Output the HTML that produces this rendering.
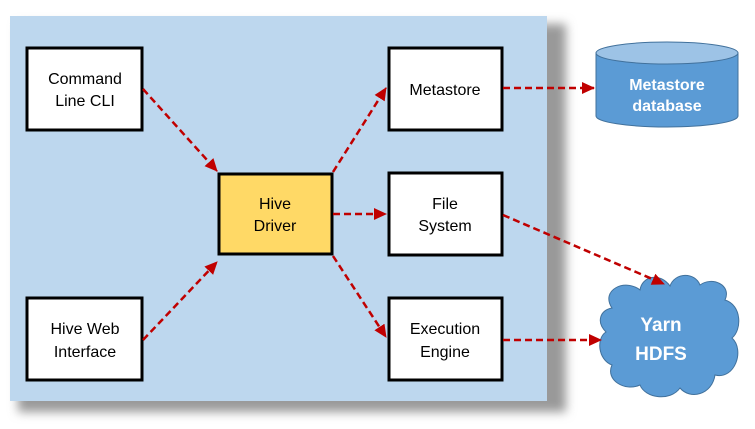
<!DOCTYPE html>
<html><head><style>
body{margin:0;background:#fff;width:755px;height:424px;overflow:hidden}
</style></head><body>
<svg width="755" height="424" xmlns="http://www.w3.org/2000/svg" font-family="Liberation Sans, sans-serif">
<defs>
<filter id="b" x="-10%" y="-10%" width="120%" height="120%"><feGaussianBlur stdDeviation="5"/></filter>
<marker id="a" markerWidth="14" markerHeight="14" refX="12" refY="6" orient="auto" markerUnits="userSpaceOnUse"><path d="M0,0 L13,6 L0,12 z" fill="#c00000"/></marker>
</defs>
<rect x="18" y="24" width="548" height="388" fill="#999" filter="url(#b)"/>
<rect x="10" y="16" width="537" height="385" fill="#bdd7ee"/>
<g stroke="#000" stroke-width="3" fill="#fff">
<rect x="27" y="48" width="115" height="82"/>
<rect x="27" y="298" width="115" height="82"/>
<rect x="219" y="174" width="113" height="80" fill="#ffd966"/>
<rect x="389" y="48" width="113" height="82"/>
<rect x="389" y="173" width="113" height="82"/>
<rect x="389" y="298" width="113" height="82"/>
</g>
<g font-size="16" text-anchor="middle" fill="#000">
<text x="85" y="84">Command</text><text x="85" y="106">Line CLI</text>
<text x="85" y="334">Hive Web</text><text x="85" y="357">Interface</text>
<text x="275" y="209">Hive</text><text x="275" y="231">Driver</text>
<text x="445" y="95">Metastore</text>
<text x="445" y="209">File</text><text x="445" y="231">System</text>
<text x="445" y="334">Execution</text><text x="445" y="357">Engine</text>
</g>
<path d="M596,53 v63 a71,11 0 0 0 142,0 v-63" fill="#5b9bd5" stroke="#41719c" stroke-width="1"/>
<ellipse cx="667" cy="53" rx="71" ry="11" fill="#9dc3e6" stroke="#41719c" stroke-width="1"/>
<g font-size="16" font-weight="bold" fill="#fff" text-anchor="middle">
<text x="667" y="90">Metastore</text><text x="667" y="111">database</text>
</g>
<path d="M612,308 C600,290 625,278 640,290 C642,276 660,272 670,286 C675,272 695,272 700,285 C712,276 732,285 725,300 C742,305 742,330 732,338 C745,350 735,380 715,375 C712,395 690,400 680,388 C670,402 645,398 640,385 C625,392 605,380 612,365 C598,360 596,338 606,332 C596,322 600,310 612,308 z" fill="#5b9bd5" stroke="#41719c" stroke-width="1"/>
<g font-size="19" font-weight="bold" fill="#fff" text-anchor="middle">
<text x="661" y="331">Yarn</text><text x="661" y="360">HDFS</text>
</g>
<g stroke="#c00000" stroke-width="2.5" stroke-dasharray="7,4" fill="none" marker-end="url(#a)">
<line x1="143" y1="89" x2="217" y2="171"/>
<line x1="143" y1="340" x2="217" y2="262"/>
<line x1="333" y1="172" x2="386" y2="88"/>
<line x1="333" y1="214" x2="386" y2="214"/>
<line x1="333" y1="256" x2="386" y2="337"/>
<line x1="503" y1="88" x2="594" y2="88"/>
<line x1="503" y1="215" x2="664" y2="284"/>
<line x1="503" y1="340" x2="601" y2="340"/>
</g>
</svg>
</body></html>
